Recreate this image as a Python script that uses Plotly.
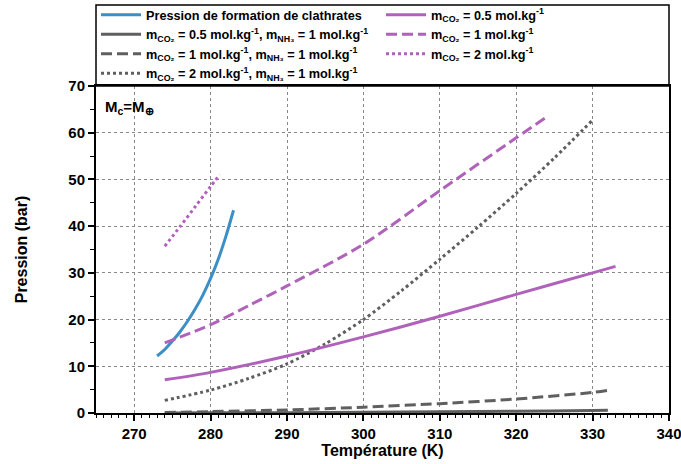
import plotly.graph_objects as go

# ---- data ----
T_clath = [273, 274, 275, 276, 277, 278, 279, 280, 281, 282, 283]
P_clath = [12.2, 13.6, 15.4, 17.4, 19.7, 22.3, 25.3, 28.8, 32.9, 37.8, 43.4]

T_g05 = [274, 280, 290, 300, 310, 320, 330, 332]
P_g05 = [0.02, 0.05, 0.08, 0.15, 0.25, 0.38, 0.55, 0.6]

T_g1 = [274, 280, 290, 300, 310, 320, 330, 332]
P_g1 = [0.1, 0.3, 0.65, 1.25, 2.0, 3.0, 4.4, 4.85]

T_g2 = [274, 280, 285, 290, 295, 300, 305, 310, 315, 320, 325, 330]
P_g2 = [2.7, 4.9, 7.4, 10.5, 14.8, 20.0, 26.2, 32.9, 39.8, 47.0, 54.6, 62.7]

T_p05 = [274, 280, 290, 300, 310, 320, 330, 333]
P_p05 = [7.1, 8.7, 12.2, 16.3, 20.7, 25.4, 30.0, 31.4]

T_p1 = [274, 280, 285, 290, 300, 310, 320, 324.2]
P_p1 = [15.0, 18.9, 23.0, 27.2, 36.1, 47.6, 58.9, 63.6]

T_p2 = [274, 276, 278, 280, 281.2]
P_p2 = [35.7, 39.9, 44.2, 48.5, 51.0]

x_ticks = [270, 280, 290, 300, 310, 320, 330, 340]
y_ticks = [0, 10, 20, 30, 40, 50, 60, 70]

BLUE = "#3b8fc6"
PURPLE = "#b062bb"
GRAY = "#5f5f5f"

mco2 = "m<sub>CO₂</sub>"
mnh3 = "m<sub>NH₃</sub>"
unit = "mol.kg<sup>-1</sup>"

series = [
    (T_clath, P_clath, "Pression de formation de clathrates", BLUE, "solid", 1),
    (T_g05, P_g05, f"{mco2} = 0.5 {unit}, {mnh3} = 1 {unit}", GRAY, "solid", 3),
    (T_g1, P_g1, f"{mco2} = 1 {unit}, {mnh3} = 1 {unit}", GRAY, "11px,5px", 5),
    (T_g2, P_g2, f"{mco2} = 2 {unit}, {mnh3} = 1 {unit}", GRAY, "3px,3px", 7),
    (T_p05, P_p05, f"{mco2} = 0.5 {unit}", PURPLE, "solid", 2),
    (T_p1, P_p1, f"{mco2} = 1 {unit}", PURPLE, "11px,5px", 4),
    (T_p2, P_p2, f"{mco2} = 2 {unit}", PURPLE, "3px,3px", 6),
]

fig = go.Figure()
for xs, ys, name, col, dash, rank in series:
    fig.add_trace(go.Scatter(
        x=xs, y=ys, name=name, mode="lines",
        line=dict(color=col, width=3, dash=dash, shape="spline", smoothing=0.8),
        legendrank=rank,
    ))

FONT = "Liberation Sans, Arial, Helvetica, sans-serif"

fig.update_layout(
    width=681, height=464,
    margin=dict(l=96, r=12, t=86, b=51, autoexpand=False),
    paper_bgcolor="white", plot_bgcolor="white",
    font=dict(family=FONT, color="black", size=13, weight="bold"),
    showlegend=True,
    legend=dict(
        orientation="h", x=0, y=1.263, xanchor="left", yanchor="top",
        entrywidth=230, entrywidthmode="pixels",
        bgcolor="rgba(0,0,0,0)", borderwidth=0,
        font=dict(size=12.7, family=FONT, weight="bold"),
        traceorder="normal", itemwidth=40,
        tracegroupgap=0,
    ),
    xaxis=dict(
        range=[265, 340], tickvals=x_ticks, ticktext=[str(v) for v in x_ticks],
        showline=True, linecolor="black", linewidth=2, mirror=True,
        ticks="outside", ticklen=6, tickwidth=1.5, tickcolor="black",
        minor=dict(dtick=1, ticks="outside", ticklen=3, tickwidth=1, tickcolor="black", showgrid=False),
        showgrid=True, gridcolor="#888888", griddash="dot", gridwidth=1,
        zeroline=False, ticklabeloverflow="allow",
        tickfont=dict(size=15, family=FONT, weight="bold"),
        title=dict(text="Température (K)", font=dict(size=16, family=FONT, weight="bold"), standoff=4),
    ),
    yaxis=dict(
        range=[0, 70], tickvals=y_ticks, ticktext=[str(v) for v in y_ticks],
        showline=True, linecolor="black", linewidth=2, mirror=True,
        ticks="outside", ticklen=6, tickwidth=1.5, tickcolor="black",
        minor=dict(dtick=5, ticks="outside", ticklen=4, tickwidth=1, tickcolor="black", showgrid=False),
        showgrid=True, gridcolor="#888888", griddash="dot", gridwidth=1,
        zeroline=False, ticklabeloverflow="allow",
        tickfont=dict(size=15, family=FONT, weight="bold"),
        title=dict(text="Pression (bar)", font=dict(size=16, family=FONT, weight="bold"), standoff=37),
    ),
    yaxis2=dict(
        range=[0, 70], overlaying="y", side="left", tickvals=y_ticks,
        showticklabels=False, showgrid=False, zeroline=False, showline=False,
        ticks="inside", ticklen=5, tickwidth=1.5, tickcolor="black",
        minor=dict(dtick=5, ticks="inside", ticklen=3, tickwidth=1, tickcolor="black", showgrid=False),
    ),
    shapes=[dict(type="rect", xref="paper", yref="paper", x0=0, x1=1, y0=1, y1=1.248,
                 line=dict(color="black", width=1.5), fillcolor="rgba(0,0,0,0)")],
    annotations=[dict(text="M<sub>c</sub>=M<sub>⊕</sub>", xref="paper", yref="paper",
                      x=0.012, y=0.97, xanchor="left", yanchor="top", showarrow=False,
                      font=dict(size=15, family=FONT, weight="bold"))],
)

fig.write_html("out.html")
